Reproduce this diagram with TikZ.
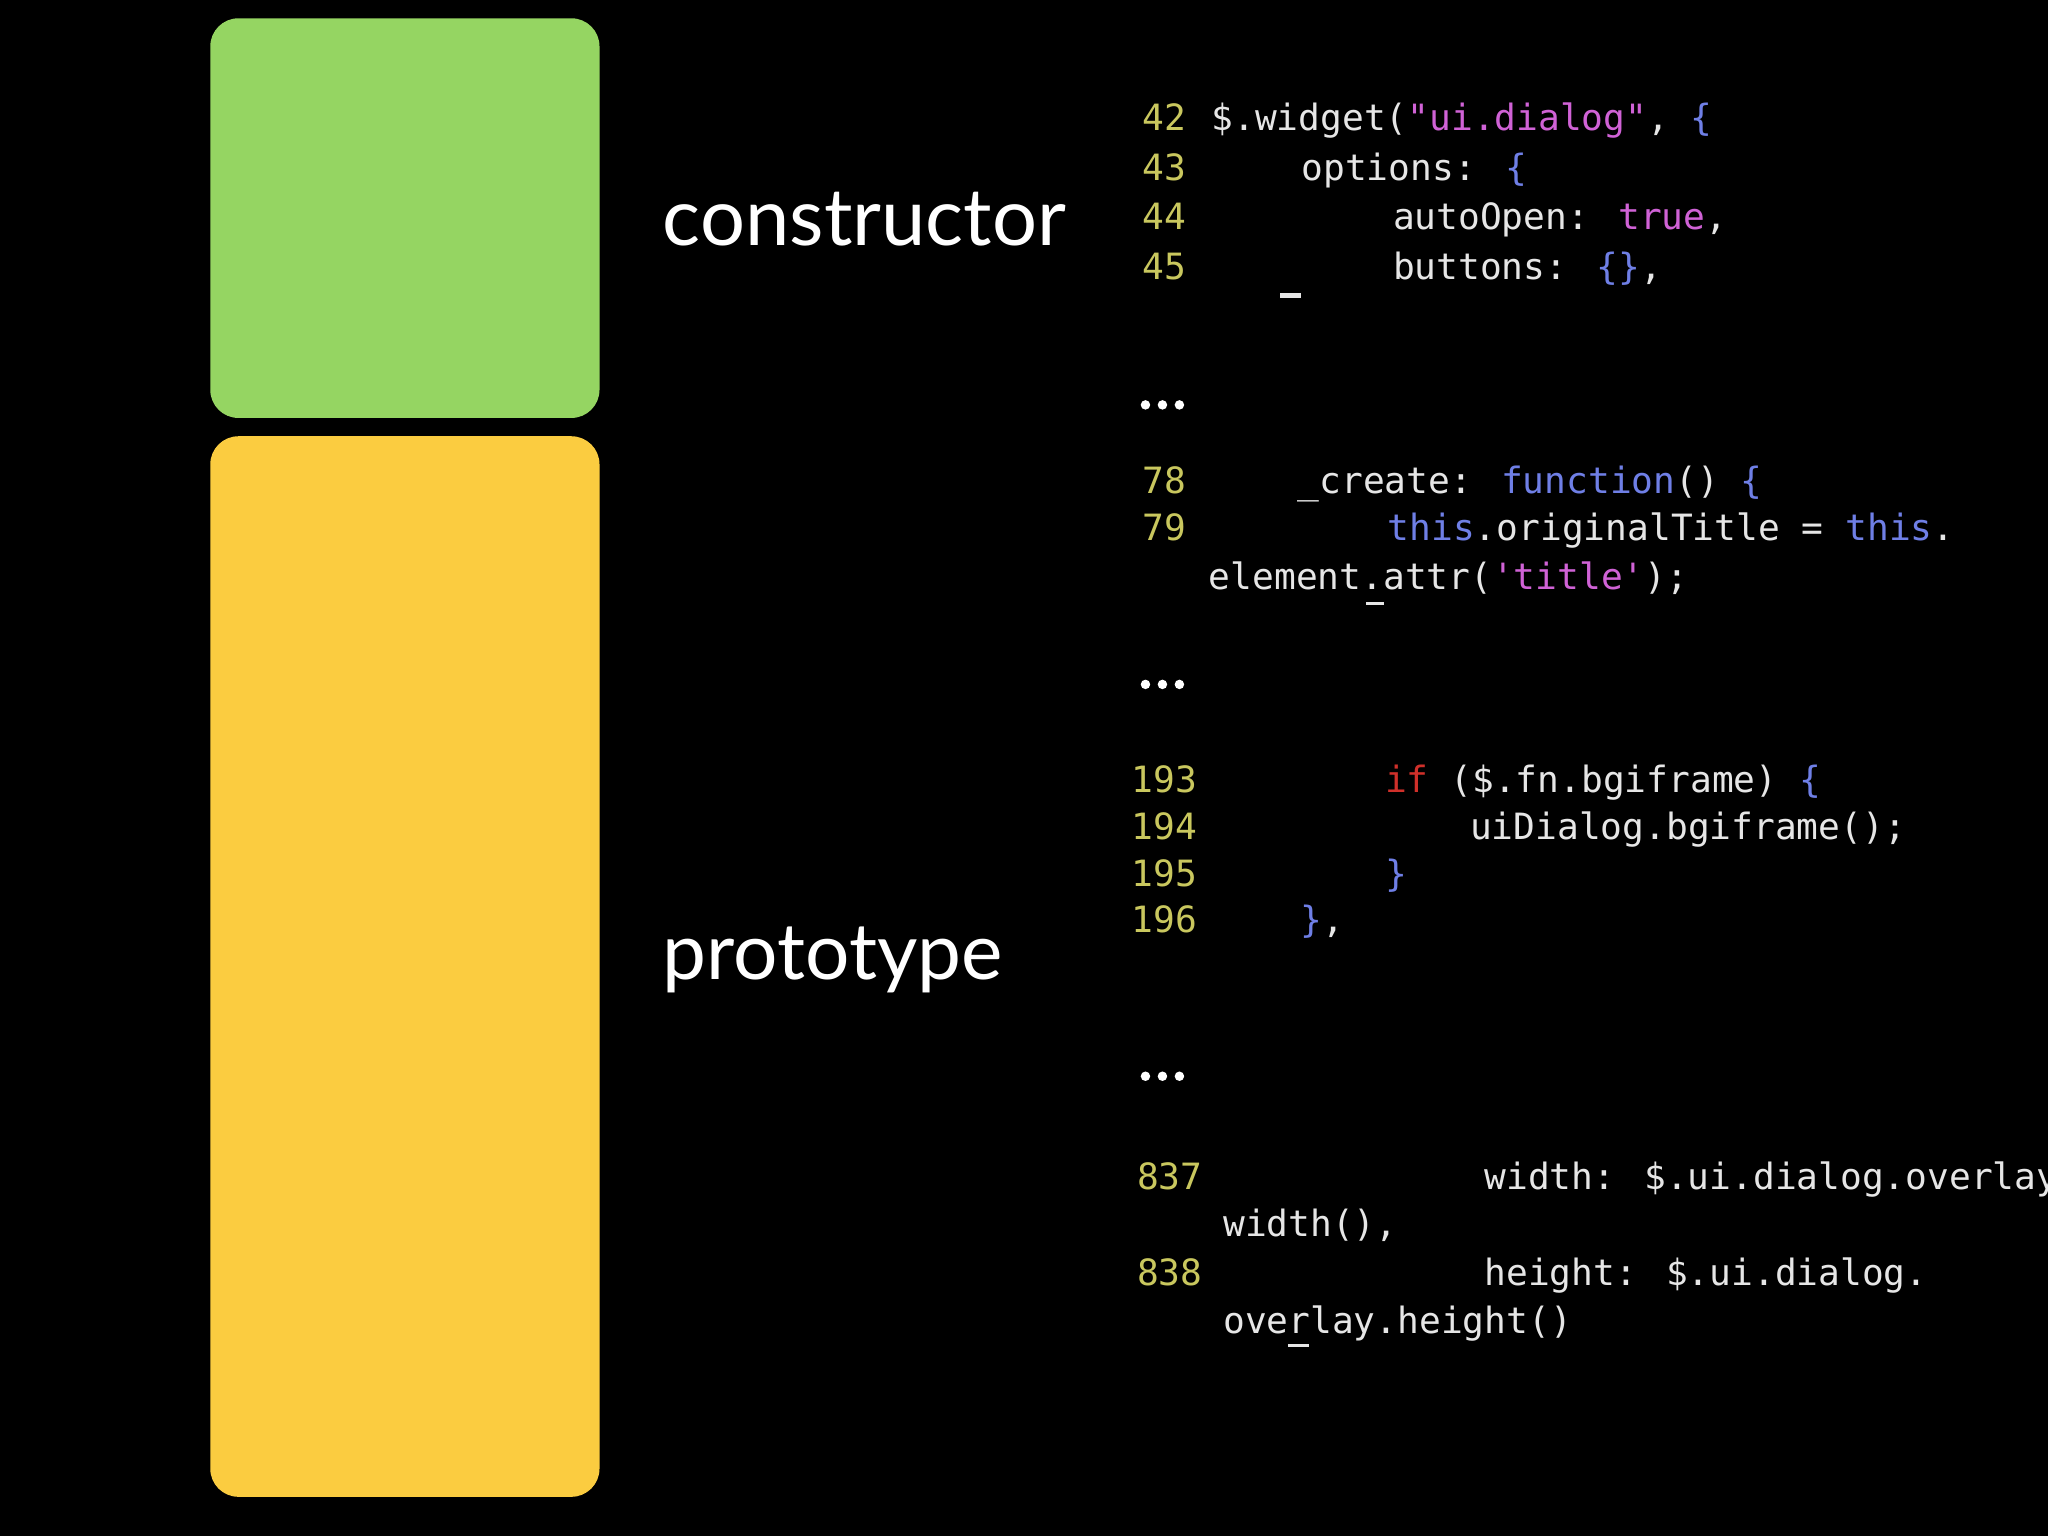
\documentclass[tikz,border=0pt]{standalone}
\usepackage{fontspec}
\setmainfont{Lato}
\newfontfamily\codefont{DejaVu Sans Mono}
\definecolor{lnum}{HTML}{C9C75E}
\definecolor{ctext}{HTML}{E6E6E6}
\definecolor{cstr}{HTML}{D062D6}
\definecolor{ckey}{HTML}{6F7FE6}
\definecolor{cred}{HTML}{D0302A}
\definecolor{boxgreen}{HTML}{95D562}
\definecolor{boxyellow}{HTML}{FBCC40}
\newcommand{\Ks}[1]{\textcolor{ckey}{#1}}
\newcommand{\Ss}[1]{\textcolor{cstr}{#1}}
\begin{document}
\begin{tikzpicture}[x=0.013061cm,y=-0.013061cm,
  code/.style={anchor=base west,inner sep=0,text=ctext,font=\codefont\fontsize{10.3pt}{12pt}\selectfont},
  num/.style={code,text=lnum},
  lbl/.style={anchor=base west,inner sep=0,text=white},
  blk/.style={rounded corners=8pt},
  dot/.style={circle,fill=white,inner sep=0,minimum size=2.7pt}]
\fill[black] (0,0) rectangle (1568,1176);
\useasboundingbox (0,0) rectangle (1568,1176);
\fill[boxgreen,blk] (161,14) rectangle (459,320);
\fill[boxyellow,blk] (161,334) rectangle (459,1146);
\node[lbl] (ctor) at (507,188) {\resizebox{4.03cm}{!}{constructor}};
\node[lbl] (proto) at (507,750) {\resizebox{3.4cm}{!}{prototype}};
% code
\node[num] (n42) at (874,100) {42};
\node[code] (c42) at (927,100) {\$.widget(\Ss{"ui.dialog"}, \Ks{\{}};
\node[num] (n43) at (874,138) {43};
\node[code] (c43) at (996,138) {options: \Ks{\{}};
\node[num] (n44) at (874,176) {44};
\node[code] (c44) at (1066,176) {autoOpen: \Ss{true},};
\node[num] (n45) at (874,214) {45};
\node[code] (c45) at (1066,214) {buttons: \Ks{\{\}},};
\draw[ctext,line width=1.5pt] (980,226) -- (996,226);
\foreach \yy/\nm in {310/a,524/b,824/c}{
  \node[dot] (d\nm1) at (877,\yy) {};
  \node[dot] (d\nm2) at (890,\yy) {};
  \node[dot] (d\nm3) at (903,\yy) {};
}
\node[num] (n78) at (874,378) {78};
\node[code] (c78) at (993,378) {\_create: \Ks{function}() \Ks{\{}};
\node[num] (n79) at (874,414) {79};
\node[code] (c79) at (1062,414) {\Ks{this}.originalTitle = \Ks{this}.};
\node[code] (c79b) at (925,451) {element.attr(\Ss{'title'});};
\draw[ctext,line width=1pt] (1046,462) -- (1060,462);
\node[num] (n193) at (866,607) {193};
\node[code] (c193) at (1060,607) {\textcolor{cred}{if} (\$.fn.bgiframe) \Ks{\{}};
\node[num] (n194) at (866,643) {194};
\node[code] (c194) at (1125,643) {uiDialog.bgiframe();};
\node[num] (n195) at (866,679) {195};
\node[code] (c195) at (1060,679) {\Ks{\}}};
\node[num] (n196) at (866,714) {196};
\node[code] (c196) at (995,714) {\Ks{\}},};
\node[num] (n837) at (870,911) {837};
\node[code] (c837) at (1136,911) {width: \$.ui.dialog.overlay.};
\node[code] (c837b) at (936,947) {width(),};
\node[num] (n838) at (870,984) {838};
\node[code] (c838) at (1136,984) {height: \$.ui.dialog.};
\node[code] (c838b) at (936,1021) {overlay.height()};
\draw[ctext,line width=1pt] (986,1030) -- (1002,1030);
\end{tikzpicture}
\end{document}
